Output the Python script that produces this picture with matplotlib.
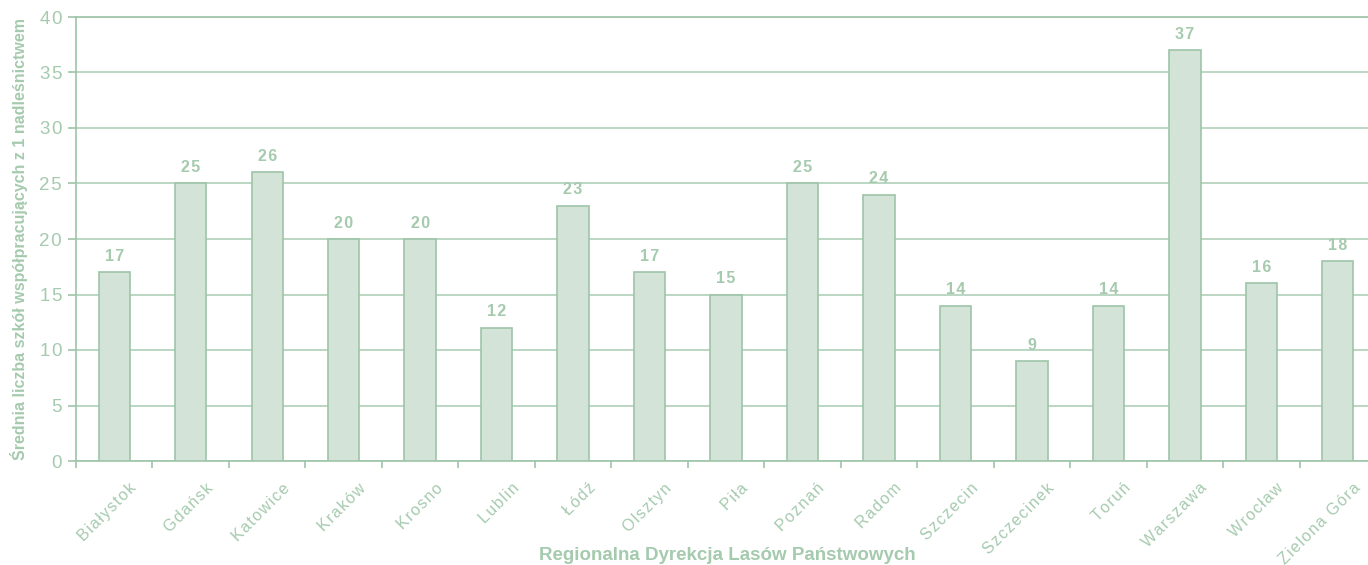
import numpy as np
import matplotlib.pyplot as plt

# Data
regions = ['Białystok', 'Gdańsk', 'Katowice', 'Kraków', 'Krosno', 'Lublin', 'Łódź',
           'Olsztyn', 'Piła', 'Poznań', 'Radom', 'Szczecin', 'Szczecinek', 'Toruń',
           'Warszawa', 'Wrocław', 'Zielona Góra']
schools = [17, 25, 26, 20, 20, 12, 23, 17, 15, 25, 24, 14, 9, 14, 37, 16, 18]
y_ticks = [0, 5, 10, 15, 20, 25, 30, 35, 40]

line_col = '#9dc4a9'
grid_col = '#a9ccb4'
fill_col = '#d3e3d8'
text_col = '#a5caae'

plt.rcParams['font.family'] = ['Liberation Sans', 'DejaVu Sans']

def spaced(s):
    # mimic the wide letter spacing of the original
    return '\u200a'.join(s)

fig = plt.figure(figsize=(13.68, 5.65), dpi=100)
ax = fig.add_axes([76 / 1368, 1 - 461 / 565, 1300 / 1368, 444 / 565])

x = np.arange(len(regions))
ax.bar(x, schools, width=0.41, color=fill_col, edgecolor=line_col, linewidth=1.2, zorder=3)
for xi, v in zip(x, schools):
    ax.text(xi, v + 0.75, spaced(str(v)), ha='center', va='bottom', fontsize=11.5,
            fontweight='bold', color=text_col)

ax.set_xlim(-0.5, len(regions) - 0.5)
ax.set_ylim(0, 40)
ax.set_yticks(y_ticks)
ax.set_yticklabels([spaced(str(t)) for t in y_ticks])
ax.yaxis.grid(True, color=grid_col, linewidth=1.1, zorder=0)
ax.set_axisbelow(True)

# ticks between categories, rotated names placed a bit to the right of each bar
ax.set_xticks(np.arange(-0.5, len(regions), 1.0))
ax.set_xticklabels([])
for xi, name in zip(x, regions):
    ax.annotate(spaced(name), xy=(xi, 0), xycoords=('data', 'axes fraction'),
                xytext=(10.5, -14), textcoords='offset points', rotation=45,
                rotation_mode='anchor', ha='right', va='top', fontsize=11.5,
                color=text_col, annotation_clip=False)
ax.tick_params(axis='x', which='major', length=5, width=1.2, color=line_col)
ax.tick_params(axis='y', length=6, width=1.2, color=line_col, labelcolor=text_col,
               labelsize=13.5, pad=4)

ax.spines['right'].set_visible(False)
for s in ['left', 'bottom', 'top']:
    ax.spines[s].set_color(line_col)
    ax.spines[s].set_linewidth(1.2)

ax.set_ylabel('Średnia liczba szkół współpracujących z 1 nadleśnictwem', fontsize=11.5,
              fontweight='bold', color=text_col, labelpad=8)
fig.text(727 / 1368, 1 - 555 / 565, 'Regionalna Dyrekcja Lasów Państwowych', ha='center',
         va='center', fontsize=13.5, fontweight='bold', color=text_col)

fig.savefig('out.png', dpi=100)
